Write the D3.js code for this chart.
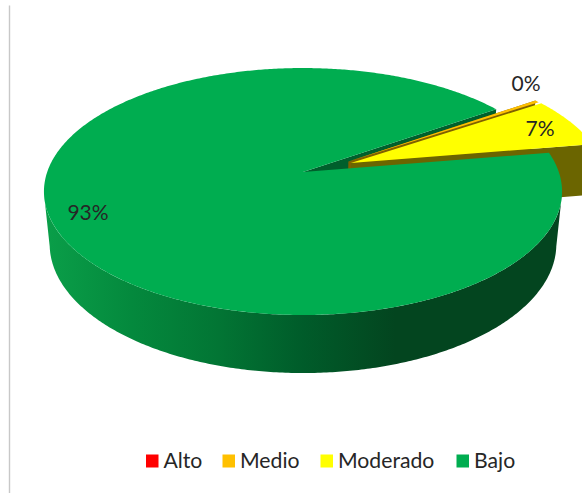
<!DOCTYPE html>
<html>
<head>
<meta charset="utf-8">
<script src="https://cdn.jsdelivr.net/npm/d3@7"></script>
<style>
  html, body { margin: 0; padding: 0; background: #fff; }
  svg { display: block; }
  text { font-family: Lato, "Open Sans", sans-serif; fill: #262626; }
</style>
</head>
<body>
<svg id="chart" width="582" height="493"></svg>
<script>
// Risk level distribution, drawn as an exploded 3D pie
const categories = ["Alto", "Medio", "Moderado", "Bajo"];
const counts = [0, 1, 20, 279];
const topColors = ["#ff0000", "#ffc000", "#ffff00", "#00ad50"];
const sideColors = ["#7f0000", "#7f6000", "#6b6500", "#005f2c"];
const explosions = [0, 0.2, 0.204, 0];
const explosionBearings = [0, 64, 68, 0];
const firstSliceAngle = 55.4 * Math.PI / 180;
const labelAnchors = { Medio: [526, 91], Moderado: [540, 136], Bajo: [88, 220] };

const svg = d3.select("#chart");

// Perspective camera: disc coordinates (u, v, depth) to screen pixels
const cam = { x0: 303, y0: 172, A: 255.8, B: 120.4, k: 0.158, m: 0.022, C: 53.3 };
function project(u, v, z) {
  const w = 1 - cam.k * v + cam.m * z;
  return [cam.x0 + cam.A * u / w, cam.y0 + (cam.B * v + cam.C * z) / w];
}

const pie = d3.pie().sort(null).startAngle(firstSliceAngle).endAngle(firstSliceAngle + 2 * Math.PI);
const slices = pie(counts).map((d, i) => {
  const bearing = explosionBearings[i] * Math.PI / 180;
  return {
    ...d,
    name: categories[i],
    top: topColors[i],
    side: sideColors[i],
    ox: explosions[i] * Math.sin(bearing),
    oy: -explosions[i] * Math.cos(bearing)
  };
});

const onRim = (s, a, z) => project(s.ox + Math.sin(a), s.oy - Math.cos(a), z);
const hub = (s, z) => project(s.ox, s.oy, z);
const line = d3.line();

function arcPoints(s, a0, a1, z) {
  const n = Math.max(2, Math.ceil(Math.abs(a1 - a0) / 0.01));
  return d3.range(n + 1).map(i => onRim(s, a0 + (a1 - a0) * i / n, z));
}
const topFace = s => line([hub(s, 0), ...arcPoints(s, s.startAngle, s.endAngle, 0)]) + "Z";
const radialFace = (s, a) => line([hub(s, 0), onRim(s, a, 0), onRim(s, a, 1), hub(s, 1)]) + "Z";

// Shading along the curved wall of the large slice
const defs = svg.append("defs");
const wallGradient = defs.append("linearGradient")
  .attr("id", "wall").attr("gradientUnits", "userSpaceOnUse")
  .attr("x1", 43).attr("x2", 561).attr("y1", 0).attr("y2", 0);
const wallStops = [[0, "#0a9f49"], [0.17, "#04893d"], [0.34, "#027534"], [0.5, "#005c2a"], [0.68, "#03451f"], [1, "#03451f"]];
wallGradient.selectAll("stop").data(wallStops).join("stop")
  .attr("offset", d => d[0]).attr("stop-color", d => d[1]);

const [medio, moderado, bajo] = [slices[1], slices[2], slices[3]];

// Frame line on the left of the chart area
svg.append("line").attr("x1", 9.5).attr("x2", 9.5).attr("y1", 5.5).attr("y2", 493)
  .attr("stroke", "#c8c8c8").attr("stroke-width", 1.4);

// Back to front: cut face of the large slice, exploded slices, then the large slice
svg.append("path").attr("d", radialFace(bajo, bajo.endAngle)).attr("fill", bajo.side);
svg.append("path").attr("d", radialFace(medio, medio.startAngle)).attr("fill", medio.side);
svg.append("path").attr("d", topFace(medio)).attr("fill", medio.top);
svg.append("path").attr("d", radialFace(moderado, moderado.endAngle)).attr("fill", moderado.side);
svg.append("path").attr("d", topFace(moderado)).attr("fill", moderado.top);

// Only the part of the wall that faces the viewer is drawn
const wallFrom = 100 * Math.PI / 180, wallTo = 260 * Math.PI / 180;
const wallPath = line([...arcPoints(bajo, wallFrom, wallTo, 0),
                       ...arcPoints(bajo, wallTo, wallFrom, 1)]) + "Z";
svg.append("path").attr("d", wallPath).attr("fill", "url(#wall)");
svg.append("path").attr("d", topFace(bajo)).attr("fill", bajo.top);

// Percentage labels
const total = d3.sum(counts);
const pct = d3.format(".0%");
slices.filter(s => labelAnchors[s.name]).forEach(s => {
  const [x, y] = labelAnchors[s.name];
  svg.append("text").attr("x", x).attr("y", y).attr("text-anchor", "middle")
    .attr("font-size", 21).text(pct(s.value / total));
});

// Legend
const legendX = d3.scaleOrdinal().domain(categories).range([146, 222.5, 320.5, 456.5]);
const legend = svg.selectAll("g.key").data(categories).join("g").attr("class", "key")
  .attr("transform", d => `translate(${legendX(d)},454.5)`);
legend.append("rect").attr("width", 12.5).attr("height", 13)
  .attr("fill", (d, i) => topColors[i]);
legend.append("text").attr("x", 17.5).attr("y", 13)
  .attr("font-size", 21.2).text(d => d);
</script>
</body>
</html>
